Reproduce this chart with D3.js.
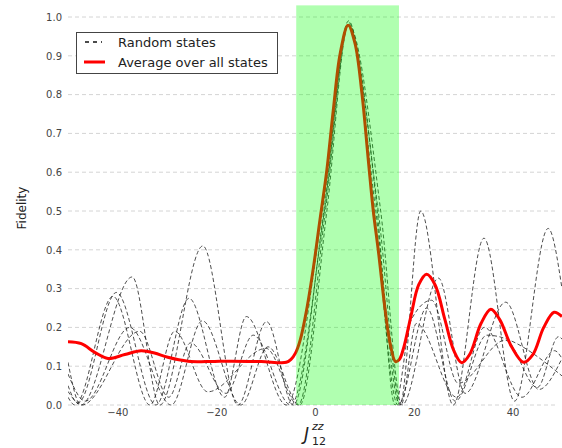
<!DOCTYPE html>
<meta charset="utf-8">
<style>
  body { margin: 0; background: #fff; }
  text { font-family: "DejaVu Sans", sans-serif; }
</style>
<script src="https://d3js.org/d3.v7.min.js"></script>
<div id="chart"></div>
<script>
// values
var xTicks = [-40, -20, 0, 20, 40];
var yTicks = [0, 0.1, 0.2, 0.3, 0.4, 0.5, 0.6, 0.7, 0.8, 0.9, 1.0];
var bandRange = [-3.8, 17.0];   // green window on J
var legendLabels = ["Random states", "Average over all states"];

// average fidelity (red line), [J, F]
var average = [
  [-50, .163], [-47.3, .158], [-44.5, .135], [-41.9, .12], [-38.5, .13], [-35.2, .14],
  [-32.5, .134], [-29.8, .123], [-25.7, .113], [-21, .112], [-17.6, .113], [-10.9, .112],
  [-5.8, .11], [-4.9, .117], [-3.9, .135], [-3.0, .167], [-1.7, .245], [-0.3, .356],
  [1.0, .477], [2.4, .606], [3.7, .76], [5.1, .906], [6.7, .979], [8.1, .932],
  [9.5, .803], [10.8, .63], [11.8, .50], [12.8, .40], [14.2, .245], [15.2, .159],
  [16.3, .112], [17.1, .118], [18.0, .15], [19.4, .228], [21.0, .31], [22.6, .337],
  [24.3, .31], [26.3, .22], [28.1, .14], [29.7, .109], [31.3, .13], [33.6, .21],
  [35.6, .247], [37.4, .22], [39.8, .15], [42.2, .11], [44.1, .13], [46.3, .2],
  [48.4, .239], [50, .228]
];

// five random states (dashed lines), [J, F]
var state1 = [[-50, .11], [-47.4, 0], [-37, .33], [-31.4, 0], [-22.7, .41], [-15.6, 0], [-9.8, .215], [-4.4, 0],
  [1.8, .5], [6.8, .99], [12.3, .5], [17.2, 0], [21.4, .50], [28, 0], [34.2, .43], [40.4, .01], [47.2, .455], [50, .30]];
var state2 = [[-50, .05], [-48, .005], [-40.2, .29], [-32.2, 0], [-25.5, .275], [-18.3, .02], [-13.9, .228], [-5.8, 0],
  [1.5, .5], [6.8, .98], [13.3, .5], [17.6, 0], [25, .327], [30.4, .03], [38.6, .265], [45.3, .04], [50, .12]];
var state3 = [[-50, .02], [-48.6, 0], [-40.9, .28], [-33.4, 0], [-28.4, .19], [-21.7, .034], [-9.9, .146], [-3.4, 0],
  [2.1, .5], [6.9, .985], [12.0, .5], [16.8, 0], [22.6, .25], [28.4, .01], [34.8, .18], [50, .075]];
var state4 = [[-50, .08], [-46.5, .01], [-37.5, .20], [-29.1, 0], [-22.8, .217], [-15, 0], [-9.5, .15], [-3.1, 0],
  [2.4, .5], [6.8, .98], [12.6, .5], [16.2, 0], [19.5, .22], [23.6, .27], [29, .056], [38.5, .167], [45, .045], [49.3, .176], [50, .17]];
var state5 = [[-50, .035], [-47.2, 0], [-35.5, .19], [-29.6, .02], [-25.2, .16], [-18, .03], [-12.5, .18], [-4.9, 0],
  [1.9, .5], [6.7, .98], [12.8, .5], [17.4, 0], [20.5, .21], [28.7, .02], [34.3, .2], [41.9, .02], [48.5, .14], [50, .12]];
var states = [state1, state2, state3, state4, state5];

var width = 562, height = 448;

var svg = d3.select("#chart")
  .append("svg")
    .attr("width", width)
    .attr("height", height);

var x = d3.scaleLinear().domain([-50, 50]).range([68, 562]);
var y = d3.scaleLinear().domain([0, 1]).range([405, 17]);

svg.append("clipPath").attr("id", "plot")
  .append("rect")
    .attr("x", x(-50)).attr("y", 0)
    .attr("width", x(50) - x(-50)).attr("height", y(0) + 1);

// horizontal grid
svg.append("g")
  .selectAll("line")
  .data(yTicks)
  .enter().append("line")
    .attr("x1", x(-50)).attr("x2", 555)
    .attr("y1", function(d) { return y(d); })
    .attr("y2", function(d) { return y(d); })
    .attr("stroke", "#d4d4d4")
    .attr("stroke-dasharray", "4,3");

// Y axis
var yAxis = svg.append("g")
  .attr("transform", "translate(" + x(-50) + ",0)")
  .call(d3.axisLeft(y).tickValues(yTicks).tickSize(0).tickPadding(6).tickFormat(d3.format(".1f")));
yAxis.select(".domain").remove();
yAxis.selectAll("text").attr("font-size", 10).attr("fill", "#444").attr("font-family", "DejaVu Sans");

// X axis
var xAxis = svg.append("g")
  .attr("transform", "translate(0," + y(0) + ")")
  .call(d3.axisBottom(x).tickValues(xTicks).tickSize(0).tickPadding(4));
xAxis.select(".domain").remove();
xAxis.selectAll("text").attr("font-size", 10).attr("fill", "#444").attr("font-family", "DejaVu Sans");

// random state lines
var stateLine = d3.line()
  .x(function(d) { return x(d[0]); })
  .y(function(d) { return y(d[1]); })
  .curve(d3.curveMonotoneX);

svg.append("g")
  .attr("clip-path", "url(#plot)")
  .selectAll("path")
  .data(states)
  .enter().append("path")
    .attr("d", stateLine)
    .attr("fill", "none")
    .attr("stroke", "#222")
    .attr("stroke-opacity", 0.8)
    .attr("stroke-width", 1)
    .attr("stroke-dasharray", "4,2.5");

// average line
var avgLine = d3.line()
  .x(function(d) { return x(d[0]); })
  .y(function(d) { return y(d[1]); })
  .curve(d3.curveCatmullRom);

svg.append("path")
  .attr("clip-path", "url(#plot)")
  .datum(average)
  .attr("d", avgLine)
  .attr("fill", "none")
  .attr("stroke", "#ff0000")
  .attr("stroke-width", 3);

// green window, drawn on top with alpha
svg.append("rect")
  .attr("x", x(bandRange[0]))
  .attr("y", y(1.03))
  .attr("width", x(bandRange[1]) - x(bandRange[0]))
  .attr("height", y(0) - y(1.03))
  .attr("fill", "#00ff00")
  .attr("fill-opacity", 0.31);

// legend
var legend = svg.append("g");
legend.append("rect")
  .attr("x", 76.5).attr("y", 32.5)
  .attr("width", 201).attr("height", 41)
  .attr("fill", "#fff")
  .attr("stroke", "#444")
  .attr("stroke-width", 1);
legend.append("line")
  .attr("x1", 85).attr("x2", 102).attr("y1", 42).attr("y2", 42)
  .attr("stroke", "#111").attr("stroke-width", 1.5).attr("stroke-dasharray", "4,4");
legend.append("line")
  .attr("x1", 84).attr("x2", 105).attr("y1", 62).attr("y2", 62)
  .attr("stroke", "#ff0000").attr("stroke-width", 3);
legend.selectAll("text.lab")
  .data(legendLabels)
  .enter().append("text")
    .attr("class", "lab")
    .attr("x", 118)
    .attr("y", function(d, i) { return 46.5 + i * 20; })
    .attr("font-size", 13)
    .attr("fill", "#222")
    .text(function(d) { return d; });

// axis titles
svg.append("text")
  .attr("transform", "translate(26,208) rotate(-90)")
  .attr("text-anchor", "middle")
  .attr("font-size", 12)
  .attr("fill", "#222")
  .text("Fidelity");

var xt = svg.append("g").attr("fill", "#222");
xt.append("text").attr("x", 304).attr("y", 440).attr("font-size", 17).attr("font-style", "italic").text("J");
xt.append("text").attr("x", 312).attr("y", 430).attr("font-size", 11).attr("font-style", "italic").text("zz");
xt.append("text").attr("x", 312).attr("y", 445).attr("font-size", 11).text("12");
</script>
